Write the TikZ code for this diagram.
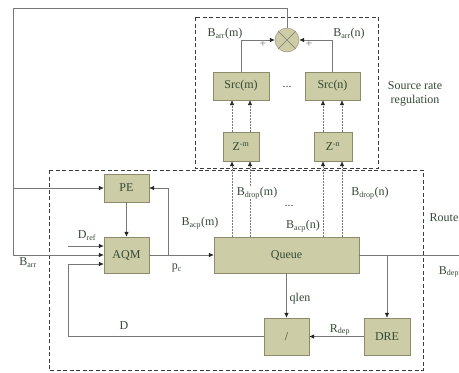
\documentclass[tikz,border=0pt]{standalone}
\usepackage{fontspec}
\setmainfont{Liberation Serif}
\usepackage{xcolor}
\usetikzlibrary{arrows.meta}
\definecolor{blockfill}{RGB}{204,204,166}
\definecolor{blockline}{RGB}{140,140,108}
\definecolor{textgreen}{RGB}{52,72,52}
\definecolor{wiregray}{RGB}{120,120,120}
\definecolor{frameline}{RGB}{60,60,60}

\begin{document}
\begin{tikzpicture}[x=1pt, y=-1pt, font=\fontsize{12}{14}\selectfont, text=textgreen,
  blk/.style={draw=blockline, fill=blockfill, inner sep=0pt},
  wire/.style={draw=wiregray, line width=0.6pt},
  sig/.style={wire, -{Latex[length=5pt,width=4.5pt,color=black!85]}},
  dsig/.style={sig, dash pattern=on 1.5pt off 1.5pt},
  frame/.style={draw=frameline, dash pattern=on 4pt off 2.5pt, line width=0.6pt}]
  \useasboundingbox (0,0) rectangle (459,373);

  \draw[frame] (195,17) rectangle (378,168);
  \draw[frame] (49,170) rectangle (423,370);

  \node[blk, circle, minimum size=24] (mult) at (287,40) {};
  \draw[wire] (mult.north east) -- (mult.south west) (mult.north west) -- (mult.south east);
  \node[blk, minimum width=56, minimum height=28] (srcm) at (241,86) {Src(m)};
  \node[blk, minimum width=55, minimum height=28] (srcn) at (332.5,86) {Src(n)};
  \node[blk, minimum width=36, minimum height=29] (zm) at (241,146.5) {Z\textsuperscript{-m}};
  \node[blk, minimum width=38, minimum height=29] (zn) at (333,146.5) {Z\textsuperscript{-n}};
  \node[blk, minimum width=45, minimum height=28] (pe) at (126.5,188) {PE};
  \node[blk, minimum width=45, minimum height=36] (aqm) at (126.5,255) {AQM};
  \node[blk, minimum width=145, minimum height=36] (queue) at (286.5,255) {Queue};
  \node[blk, minimum width=45, minimum height=37] (div) at (286.5,336.5) {/};
  \node[blk, minimum width=46, minimum height=37] (dre) at (387,336.5) {DRE};

  \coordinate (tl) at (13,8);
  \coordinate (bl) at (13,255);
  \coordinate (pb) at (13,188);
  \coordinate (dref) at (68,246);
  \coordinate (pcb) at (168,255);
  \coordinate (bdep) at (459,255);
  \coordinate (dcorner) at (68,336.5);

  \draw[wire] (mult.north) |- (tl) -- (bl);
  \draw[sig] (bl) -- (aqm.west);
  \draw[sig] (pb) -- (pe.west);
  \draw[sig] (dref) -- ([yshift=9pt]aqm.west);
  \draw[sig] (pe) -- (aqm);
  \draw[sig] (aqm.east) -- (queue.west);
  \draw[sig] (pcb) |- (pe.east);
  \draw[wire] (queue.east) -- (bdep);
  \draw[sig] (dre.north |- queue.east) -- (dre.north);
  \draw[sig] (queue.south) -- (div.north);
  \draw[sig] (dre.west) -- (div.east);
  \draw[sig] (div.west) -- (dcorner) |- ([yshift=-9pt]aqm.west);
  \draw[sig] (srcm.north) |- (mult.west);
  \draw[sig] (srcn.north) |- (mult.east);

  \coordinate (zma) at ([xshift=-9pt]zm.south);
  \coordinate (zmb) at ([xshift=9pt]zm.south);
  \coordinate (zna) at ([xshift=-10pt]zn.south);
  \coordinate (znb) at ([xshift=9pt]zn.south);
  \draw[dsig] (zma |- queue.north) -- (zma);
  \draw[dsig] (zmb |- queue.north) -- (zmb);
  \draw[dsig] (zna |- queue.north) -- (zna);
  \draw[dsig] (znb |- queue.north) -- (znb);
  \draw[dsig] (zma |- zm.north) -- (zma |- srcm.south);
  \draw[dsig] (zmb |- zm.north) -- (zmb |- srcm.south);
  \draw[dsig] (zna |- zn.north) -- (zna |- srcn.south);
  \draw[dsig] (znb |- zn.north) -- (znb |- srcn.south);

  \node (barrm) at (225,34) {B\textsubscript{arr}(m)};
  \node (barrn) at (349,34) {B\textsubscript{arr}(n)};
  \node[text=wiregray] (plusm) at (263,44) {+};
  \node[text=wiregray] (plusn) at (309,44) {+};
  \node (dotssrc) at (287,87) {...};
  \node[align=center] (srclbl) at (415,94) {Source rate\\regulation};
  \node[fill=white, inner sep=0.5pt] (bdropm) at (257,193) {B\textsubscript{drop}(m)};
  \node (bdropn) at (370,193) {B\textsubscript{drop}(n)};
  \node (dotsq) at (289,206) {...};
  \node (bacpn) at (303,226) {B\textsubscript{acp}(n)};
  \node (bacpm) at (200,223) {B\textsubscript{acp}(m)};
  \node (drefl) at (87,236) {D\textsubscript{ref}};
  \node (barr) at (28,263) {B\textsubscript{arr}};
  \node (pcl) at (177,268) {p\textsubscript{c}};
  \node (dl) at (124,326) {D};
  \node (qlen) at (300,299) {qlen};
  \node (rdep) at (340,330) {R\textsubscript{dep}};
  \node (route) at (444,218) {Route};
  \node (bdepl) at (449,272) {B\textsubscript{dep}};
\end{tikzpicture}
\end{document}
